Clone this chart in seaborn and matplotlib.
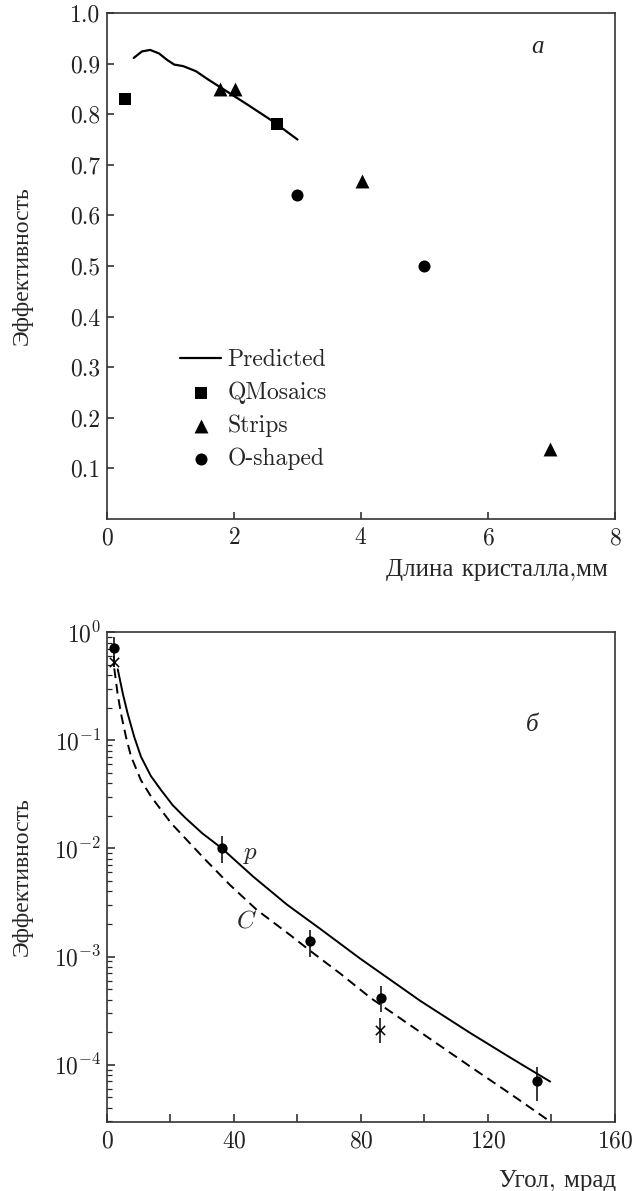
import numpy as np
import matplotlib
matplotlib.use("Agg")
import matplotlib.pyplot as plt
import matplotlib.ticker as mticker
import seaborn as sns

# -----------------------------
# Data: panel (a) - efficiency vs crystal length
# -----------------------------
pred_x = [0.42, 0.55, 0.68, 0.82, 0.95, 1.06, 1.2, 1.4, 1.6, 1.8, 2.2, 2.6, 3.0]
pred_y = [0.911, 0.924, 0.927, 0.920, 0.907, 0.898, 0.895, 0.885, 0.868, 0.852, 0.820, 0.787, 0.750]

qmos_x = [0.29, 2.67]
qmos_y = [0.831, 0.781]

strips_x = [1.78, 2.02, 4.01, 6.97]
strips_y = [0.849, 0.849, 0.667, 0.139]

oshape_x = [3.0, 5.0]
oshape_y = [0.641, 0.501]

# -----------------------------
# Data: panel (б) - efficiency vs angle
# -----------------------------
p_x = [3.4, 5.0, 6.5, 8.6, 10.7, 13.8, 17.0, 20.7, 24.4, 30.0, 36.2, 46.1, 56.7, 67.2,
       79.8, 98.7, 114.0, 127.1, 139.6]
p_y = [0.452, 0.269, 0.177, 0.107, 0.0705, 0.0468, 0.0347, 0.0251, 0.0195, 0.0138, 0.0100,
       0.00547, 0.00302, 0.00180, 0.000955, 0.000389, 0.000200, 0.000116, 0.0000698]

c_x = [2.3, 3.3, 4.4, 6.0, 7.6, 10.7, 13.9, 20.2, 30.5, 38.8, 47.2, 57.7, 64.0, 73.5,
       83.2, 98.7, 114.0, 127.1, 139.6]
c_y = [0.461, 0.275, 0.177, 0.107, 0.0705, 0.0427, 0.0301, 0.0171, 0.00813, 0.00457,
       0.00270, 0.00158, 0.00113, 0.000695, 0.000411, 0.000200, 0.0000980, 0.0000537, 0.0000298]

dots_x = [2.1, 36.3, 64.1, 86.2, 135.3]
dots_y = [0.716, 0.0100, 1.39e-3, 4.1e-4, 7.1e-5]
dots_lo = [0.48, 7.33e-3, 9.86e-4, 3.09e-4, 4.57e-5]
dots_hi = [0.905, 0.0129, 1.76e-3, 5.37e-4, 9.55e-5]

stars_x = [2.1, 86.0]
stars_y = [0.532, 2.1e-4]
stars_lo = [0.48, 1.58e-4]
stars_hi = [0.6, 2.7e-4]

# -----------------------------
# Style
# -----------------------------
sns.set_style("ticks")
plt.rcParams['font.family'] = ['cmr10', 'Liberation Serif']
plt.rcParams['mathtext.fontset'] = 'cm'
plt.rcParams['axes.formatter.use_mathtext'] = True
plt.rcParams['font.size'] = 17
plt.rcParams['axes.edgecolor'] = '#333333'
plt.rcParams['axes.linewidth'] = 1.2
plt.rcParams['xtick.direction'] = 'in'
plt.rcParams['ytick.direction'] = 'in'

fig = plt.figure(figsize=(6.36, 11.91), dpi=100)
ax1 = fig.add_axes([0.1682, 0.5642, 0.7987, 0.4249])
ax2 = fig.add_axes([0.1682, 0.0579, 0.7987, 0.4114])

# -----------------------------
# Panel (a)
# -----------------------------
sns.lineplot(x=pred_x, y=pred_y, ax=ax1, color='black', linewidth=1.6, label='Predicted', sort=False)
sns.scatterplot(x=qmos_x, y=qmos_y, ax=ax1, marker='s', s=75, color='black', edgecolor='black',
                linewidth=0, label='QMosaics')
sns.scatterplot(x=strips_x, y=strips_y, ax=ax1, marker='^', s=100, color='black', edgecolor='black',
                linewidth=0, label='Strips')
sns.scatterplot(x=oshape_x, y=oshape_y, ax=ax1, marker='o', s=75, color='black', edgecolor='black',
                linewidth=0, label='O-shaped')

ax1.set_xlim(0, 8)
ax1.set_ylim(0, 1.0)
ax1.set_xticks([0, 2, 4, 6, 8])
ax1.set_yticks([0.1, 0.2, 0.3, 0.4, 0.5, 0.6, 0.7, 0.8, 0.9, 1.0])
ax1.yaxis.set_major_formatter(mticker.FormatStrFormatter('%.1f'))
ax1.tick_params(axis='x', length=5, width=1.1, pad=6, colors='#222222')
ax1.tick_params(axis='y', length=5, width=1.1, pad=5, colors='#222222')
ax1.set_ylabel('Эффективность', fontsize=17)
ax1.yaxis.set_label_coords(-0.146, 0.5)
ax1.set_xlabel('Длина кристалла,мм', fontsize=18, loc='right')
ax1.xaxis.set_label_coords(0.986, -0.079)
ax1.text(6.78, 0.933, 'а', fontsize=18, style='italic', family='Liberation Serif',
         ha='center', va='center')

ax1.legend(loc='upper left', bbox_to_anchor=(0.144, 0.336), frameon=False, fontsize=17,
           handlelength=1.75, handletextpad=0.25, labelspacing=0.44, borderpad=0,
           borderaxespad=0)

# -----------------------------
# Panel (б)
# -----------------------------
sns.lineplot(x=p_x, y=p_y, ax=ax2, color='black', linewidth=1.4, sort=False)
sns.lineplot(x=c_x, y=c_y, ax=ax2, color='black', linewidth=1.4, linestyle=(0, (5, 3)), sort=False)
ax2.vlines(dots_x, dots_lo, dots_hi, color='black', linewidth=1.1)
ax2.vlines(stars_x, stars_lo, stars_hi, color='black', linewidth=1.1)
sns.scatterplot(x=dots_x, y=dots_y, ax=ax2, marker='o', s=55, color='black', edgecolor='black', linewidth=0)
sns.scatterplot(x=stars_x, y=stars_y, ax=ax2, marker='x', s=45, color='black', linewidth=1.1)

ax2.set_yscale('log')
ax2.set_xlim(0, 160)
ax2.set_ylim(2.95e-5, 1.0)
ax2.set_xticks([0, 40, 80, 120, 160])
ax2.xaxis.set_minor_locator(mticker.FixedLocator([20, 60, 100, 140]))
ax2.yaxis.set_major_locator(mticker.LogLocator(base=10, numticks=10))
ax2.yaxis.set_minor_locator(mticker.LogLocator(base=10, subs=np.arange(2, 10), numticks=10))
ax2.yaxis.set_minor_formatter(mticker.NullFormatter())
ax2.tick_params(axis='x', which='both', length=6, width=1.1, pad=6, colors='#222222')
ax2.tick_params(axis='y', which='major', length=6, width=1.1, pad=4, colors='#222222')
ax2.tick_params(axis='y', which='minor', length=3.5, width=0.9)
ax2.set_ylabel('Эффективность', fontsize=17)
ax2.yaxis.set_label_coords(-0.146, 0.5)
ax2.set_xlabel('Угол, мрад', fontsize=18, loc='right')
ax2.xaxis.set_label_coords(1.003, -0.097)

ax2.text(133.8, 0.138, 'б', fontsize=18, style='italic', family='Liberation Serif',
         ha='center', va='center')
ax2.text(45.1, 0.0087, r'$p$', fontsize=18, ha='center', va='center')
ax2.text(44.0, 0.0021, r'$C$', fontsize=18, ha='center', va='center')

for a in (ax1, ax2):
    for s in a.spines.values():
        s.set_visible(True)

fig.savefig('out.png', dpi=100)
